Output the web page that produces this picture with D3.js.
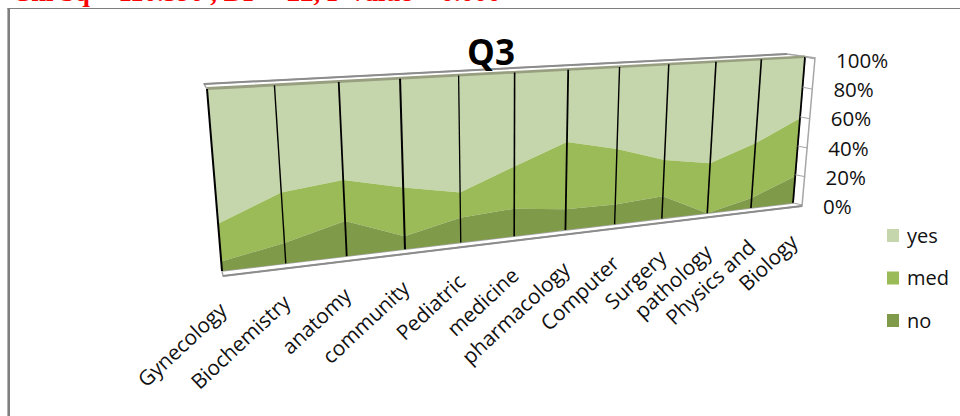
<!DOCTYPE html>
<html>
<head>
<meta charset="utf-8">
<script src="https://cdn.jsdelivr.net/npm/d3@7/dist/d3.min.js"></script>
<style>
  html, body { margin: 0; padding: 0; background: #fff; }
  svg { display: block; }
  text { font-family: "Open Sans", "Noto Sans", sans-serif; }
</style>
</head>
<body>
<svg id="chart" width="960" height="416"></svg>
<script>
const categories = ["Gynecology", "Biochemistry", "anatomy", "community", "Pediatric", "medicine",
  "pharmacology", "Computer", "Surgery", "pathology", "Physics and", "Biology"];
// Percentage of responses per department
const noValues  = [5.5, 12, 21, 8, 15.5, 17.5, 13.5, 13, 15, 0, 7, 19];
const medValues = [21.5, 29, 24, 29.3, 15.5, 26.2, 42.5, 36, 24, 34, 37.5, 40];
const yesValues = noValues.map((n, i) => 100 - n - medValues[i]);
const percentTicks = [0, 20, 40, 60, 80, 100];
const legendItems = ["yes", "med", "no"];
const seriesColors = { yes: "#c6d6ac", med: "#9bbb59", no: "#7f9a48" };
const dropLineWeights = [2, 1.4, 1.8, 2, 1.3, 1.6, 1.8, 1.4, 1.5, 1.6, 1.6, 1.8];

const svg = d3.select("#chart");
const W = 960, H = 416;

// Perspective mapping of the unit square onto the slanted plot wall
const corners = { tl: [207, 89], tr: [805, 57], br: [793, 203], bl: [222, 271] };
function homography(c) {
  const [x0, y0] = c.bl, [x1, y1] = c.br, [x2, y2] = c.tr, [x3, y3] = c.tl;
  const dx1 = x1 - x2, dx2 = x3 - x2, sx = x0 - x1 + x2 - x3;
  const dy1 = y1 - y2, dy2 = y3 - y2, sy = y0 - y1 + y2 - y3;
  const den = dx1 * dy2 - dx2 * dy1;
  const g = (sx * dy2 - dx2 * sy) / den, h = (dx1 * sy - sx * dy1) / den;
  const a = x1 - x0 + g * x1, b = x3 - x0 + h * x3;
  const d = y1 - y0 + g * y1, e = y3 - y0 + h * y3;
  return (u, v) => {
    const w = g * u + h * v + 1;
    return [(a * u + b * v + x0) / w, (d * u + e * v + y0) / w];
  };
}
const project = homography(corners);
const xScale = d3.scaleLinear().domain([0, categories.length - 1]).range([0, 1]);
const yScale = d3.scaleLinear().domain([0, 100]).range([0, 1]);
const wall = (i, pct) => project(xScale(i), yScale(pct));

// Picture frame: heavier on the left, hairline along the top
svg.append("line").attr("x1", 8.7).attr("x2", 8.7).attr("y1", 8).attr("y2", H)
  .attr("stroke", "#7f7f7f").attr("stroke-width", 2.6);
svg.append("line").attr("x1", 7.5).attr("x2", W).attr("y1", 8.5).attr("y2", 8.5)
  .attr("stroke", "#7f7f7f").attr("stroke-width", 1);

// Statistics caption running off the top edge
svg.append("text").attr("x", 12).attr("y", 0.5)
  .attr("font-size", 26.7).attr("font-weight", "bold").attr("fill", "#ff0000")
  .style("font-family", "'Liberation Serif', serif")
  .text("Chi Sq = 110.590 , DF = 22, P Value = 0.000");

// Chart box: outline of the wall, side panel and floor
const polygon = d3.line();
svg.append("path").attr("d", polygon([[204, 84], [787, 54], [815, 58], [802, 206], [223, 276], [222, 271], [793, 203], [805, 57], [207, 89]]) + "Z")
  .attr("fill", "#fff").attr("stroke", "#a6a6a6").attr("stroke-width", 1.5);
svg.append("path").attr("d", polygon([[204, 84], [787, 54]])).attr("stroke", "#8c8c8c").attr("stroke-width", 2);
svg.append("path").attr("d", polygon([[223, 276], [802, 206]])).attr("stroke", "#8c8c8c").attr("stroke-width", 2);

// Stacked areas
const layers = [
  { key: "yes", low: i => noValues[i] + medValues[i], high: i => noValues[i] + medValues[i] + yesValues[i] },
  { key: "med", low: i => noValues[i], high: i => noValues[i] + medValues[i] },
  { key: "no", low: () => 0, high: i => noValues[i] }
];
const indices = d3.range(categories.length);
svg.append("g").selectAll("path").data(layers).join("path")
  .attr("fill", d => seriesColors[d.key])
  .attr("d", d => polygon([
    ...indices.map(i => wall(i, d.high(i))),
    ...indices.slice().reverse().map(i => wall(i, d.low(i)))
  ]) + "Z");

// Shaded top face of the stack
svg.append("path").attr("fill", "#979f80")
  .attr("d", polygon([[207, 90], [805, 58], [805, 55.5], [207, 87]]) + "Z");

// Drop lines between departments
svg.append("g").selectAll("line").data(indices).join("line")
  .attr("x1", i => wall(i, 0)[0]).attr("y1", i => wall(i, 0)[1])
  .attr("x2", i => wall(i, 100)[0]).attr("y2", i => wall(i, 100)[1])
  .attr("stroke", "#000").attr("stroke-width", i => dropLineWeights[i]);

// Gridlines on the side panel
svg.append("g").selectAll("line").data(percentTicks).join("line")
  .attr("x1", t => wall(11, t)[0]).attr("y1", t => wall(11, t)[1])
  .attr("x2", t => wall(11, t)[0] + 10).attr("y2", t => wall(11, t)[1] + 2)
  .attr("stroke", "#a6a6a6").attr("stroke-width", 1);

// Percentage axis labels
const labelX = d3.scaleLinear().domain([0, 100]).range([823, 836]);
const labelY = d3.scaleLinear().domain([0, 100]).range([214, 68]);
svg.append("g").selectAll("text").data(percentTicks).join("text")
  .attr("x", t => labelX(t)).attr("y", t => labelY(t))
  .attr("font-size", 20.5).attr("fill", "#111").text(t => t + "%");

// Department labels, rotated under the floor
svg.append("g").selectAll("text").data(indices).join("text")
  .attr("text-anchor", "end")
  .attr("font-size", 20.8).attr("fill", "#111")
  .attr("transform", i => {
    const [x, y] = wall(i, 0);
    return `translate(${x + 6},${y + 41}) rotate(-43)`;
  })
  .text(i => categories[i]);

// Title
svg.append("text").attr("x", 491).attr("y", 65).attr("text-anchor", "middle")
  .attr("font-size", 35).attr("font-weight", "bold").attr("fill", "#000").text("Q3");

// Legend
const legendY = d3.scalePoint().domain(legendItems).range([236, 321]);
const legend = svg.append("g").selectAll("g").data(legendItems).join("g")
  .attr("transform", d => `translate(887,${legendY(d)})`);
legend.append("rect").attr("x", 0).attr("y", -7).attr("width", 12).attr("height", 13)
  .attr("fill", d => seriesColors[d]);
legend.append("text").attr("x", 20).attr("y", 6.5).attr("font-size", 20).attr("fill", "#111").text(d => d);
</script>
</body>
</html>
